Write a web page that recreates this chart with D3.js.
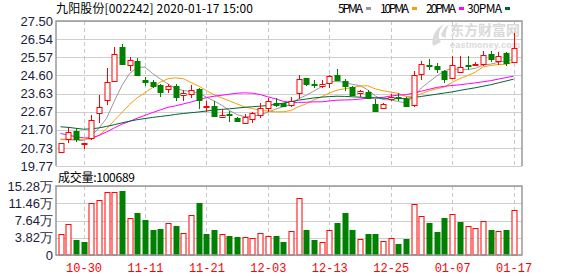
<!DOCTYPE html>
<html>
<head>
<meta charset="utf-8">
<title>九阳股份 K线</title>
<script src="https://d3js.org/d3.v7.min.js"></script>
<style>
    body { margin: 0; background: #fff; }
    svg { display: block; }
    .lbl { font-family: "Liberation Sans", Arial, sans-serif; font-size: 13px; fill: #1c1c3c; }
    .cjk { font-family: "Noto Sans CJK SC", sans-serif; font-size: 12px; fill: #000; }
    .date { font-family: "Liberation Mono", "DejaVu Sans Mono", monospace; font-size: 12px; fill: #f00; }
</style>
</head>
<body>
<script>
// trading days shown
const dates = ["10-25","10-28","10-29","10-30","10-31","11-01","11-04","11-05","11-06","11-07",
    "11-08","11-11","11-12","11-13","11-14","11-15","11-18","11-19","11-20","11-21",
    "11-22","11-25","11-26","11-27","11-28","11-29","12-02","12-03","12-04","12-05",
    "12-06","12-09","12-10","12-11","12-12","12-13","12-16","12-17","12-18","12-19",
    "12-20","12-23","12-24","12-25","12-26","12-27","12-30","12-31","01-02","01-03",
    "01-06","01-07","01-08","01-09","01-10","01-13","01-14","01-15","01-16","01-17"];
const dateTicks = ["10-30","11-11","11-21","12-03","12-13","12-25","01-07","01-17"];

const openP  = [20.49,21.24,21.63,20.93,21.24,22.58,23.28,24.30,26.12,25.16,
    25.35,24.33,24.26,24.10,23.87,24.05,23.55,23.62,23.87,22.90,
    22.97,22.38,22.53,22.35,22.04,22.26,22.49,22.85,23.12,23.12,
    22.99,23.65,24.46,24.16,24.03,24.23,24.64,24.28,23.97,23.67,
    23.74,23.06,22.85,23.37,23.44,23.35,23.03,24.69,25.17,25.08,
    24.82,24.46,24.78,25.14,25.14,25.21,25.75,25.41,25.77,25.32];
const highP  = [21.00,21.86,21.77,21.02,22.49,23.56,24.99,26.12,26.30,25.59,
    25.53,24.51,24.37,24.14,24.14,24.14,23.83,24.10,23.92,23.21,
    23.21,22.79,22.72,22.40,22.54,22.67,23.12,23.38,23.38,23.15,
    23.47,24.64,24.47,24.33,24.37,24.60,24.94,24.40,24.01,23.83,
    23.83,23.33,23.15,23.62,23.65,23.47,24.82,25.35,25.48,25.26,
    24.91,25.62,25.62,25.62,25.30,25.89,25.89,25.84,25.84,26.87];
const lowP   = [20.47,20.97,21.06,20.66,21.15,22.04,23.03,24.28,25.15,24.82,
    24.55,24.01,23.92,23.47,23.65,23.21,23.21,23.42,22.79,22.67,
    22.36,22.31,22.10,22.13,22.02,22.08,22.31,22.63,22.90,22.90,
    22.90,23.33,24.01,23.92,23.92,23.92,24.28,23.78,23.51,23.44,
    23.33,22.70,22.79,23.21,23.21,22.94,22.90,24.33,24.91,24.73,
    24.19,24.44,24.76,24.91,25.08,25.08,25.30,25.17,25.08,25.30];
const closeP = [20.97,21.60,21.18,21.00,22.22,22.90,24.24,25.75,25.19,25.42,
    24.60,24.24,24.06,23.74,24.05,23.45,23.65,23.83,23.30,22.97,
    22.44,22.49,22.46,22.19,22.36,22.58,22.85,23.24,22.99,22.97,
    23.21,24.40,24.14,24.10,24.14,24.58,24.37,24.01,23.56,23.78,
    23.44,22.71,23.06,23.47,23.37,22.97,24.64,25.21,25.10,24.94,
    24.37,25.17,25.03,25.08,25.21,25.71,25.50,25.66,25.26,26.07];

// volume in 万手, up = red (close above previous close)
const volume = [4.58,6.80,3.32,2.95,11.45,12.11,14.02,14.02,14.17,8.13,
    9.30,7.75,5.54,5.69,7.02,6.42,4.80,8.79,11.45,4.65,
    5.54,4.58,4.21,3.99,3.91,3.69,4.80,4.21,4.21,2.88,
    5.24,12.55,5.54,3.32,2.80,5.46,7.09,9.30,5.54,3.47,
    4.65,4.65,3.10,3.69,2.44,3.54,11.22,8.56,7.09,5.09,
    8.19,9.08,7.31,6.35,5.90,7.46,5.54,5.24,5.54,10.07];
const volUp = [1,1,0,0,1,1,1,1,0,1, 0,0,0,0,1,0,1,1,0,0,
    0,1,0,0,1,1,1,1,0,0, 1,1,0,0,1,1,0,0,0,1,
    0,0,1,1,0,0,1,1,0,0, 0,1,0,1,1,1,0,1,0,1];

const ma5  = [21.18,21.17,21.15,21.12,21.39,21.78,22.31,23.22,24.06,24.70,
    25.04,25.04,24.70,24.41,24.14,23.91,23.79,23.74,23.66,23.44,
    23.24,23.01,22.73,22.51,22.39,22.42,22.49,22.64,22.80,22.93,
    23.05,23.36,23.54,23.77,24.00,24.27,24.27,24.24,24.12,24.06,
    23.83,23.50,23.31,23.29,23.21,23.12,23.50,23.93,24.26,24.57,
    24.85,24.96,24.92,24.92,24.97,25.15,25.20,25.30,25.38,25.45];
const ma10 = [21.20,21.20,21.19,21.19,21.22,21.40,21.75,22.20,22.62,23.05,
    23.41,23.67,23.96,24.24,24.42,24.47,24.42,24.22,24.03,23.79,
    23.57,23.40,23.24,23.08,22.91,22.83,22.75,22.69,22.66,22.66,
    22.73,22.93,23.09,23.29,23.46,23.66,23.81,23.89,23.95,24.03,
    24.05,23.88,23.78,23.71,23.64,23.47,23.50,23.62,23.78,23.89,
    23.98,24.23,24.43,24.59,24.77,25.05,25.13,25.18,25.19,25.31];
const ma20 = [21.50,21.42,21.33,21.27,21.26,21.40,21.58,21.80,22.00,22.15,
    22.32,22.47,22.62,22.76,22.90,22.98,23.08,23.18,23.30,23.42,
    23.49,23.54,23.60,23.65,23.67,23.65,23.58,23.46,23.35,23.22,
    23.15,23.16,23.17,23.19,23.19,23.24,23.28,23.29,23.30,23.34,
    23.39,23.40,23.43,23.50,23.55,23.57,23.66,23.76,23.86,23.96,
    24.02,24.06,24.10,24.15,24.20,24.26,24.32,24.40,24.48,24.56];
const ma30 = [21.86,21.83,21.78,21.73,21.75,21.80,21.88,21.97,22.07,22.16,
    22.24,22.30,22.36,22.41,22.46,22.52,22.57,22.61,22.65,22.70,
    22.75,22.79,22.82,22.86,22.90,22.93,22.96,23.00,23.06,23.12,
    23.20,23.28,23.34,23.40,23.44,23.47,23.49,23.48,23.46,23.44,
    23.42,23.40,23.38,23.37,23.36,23.37,23.42,23.48,23.54,23.60,
    23.66,23.72,23.80,23.87,23.94,24.02,24.10,24.20,24.30,24.40];

const priceTicks = [19.77,20.73,21.70,22.67,23.63,24.60,25.57,26.54,27.50];
const volTicks = [0,3.82,7.64,11.46,15.28];

const maNames = ["5PMA","10PMA","20PMA","30PMA"];
const maColors = ["#999999","#f5a000","#ff00ff","#006633"];
const maSeries = [ma5, ma10, ma20, ma30];

const W = 578, H = 276;
const left = 56, right = 522;
const pTop = 21, pBot = 166, vTop = 186, vBot = 255;
const red = "#ff0000", green = "#008000";

let svg = d3.select("body").append("svg")
    .attr("width", W).attr("height", H);

let x = d3.scalePoint().domain(dates).range([60.5, 513.6]);
let cx = d => Math.round(x(d)) + 0.5;
let yP = d3.scaleLinear().domain([19.77, 27.50]).range([pBot, pTop]);
let yV = d3.scaleLinear().domain([0, 15.28]).range([vBot, vTop]);

// grids
function grid(g, yScale, ticks, y0, y1) {
    g.selectAll("line.h").data(ticks).join("line")
        .attr("x1", left).attr("x2", right)
        .attr("y1", d => Math.round(yScale(d)) + 0.5)
        .attr("y2", d => Math.round(yScale(d)) + 0.5)
        .attr("stroke", "#cfcfcf");
    g.selectAll("line.v").data(dateTicks).join("line")
        .attr("x1", d => cx(d)).attr("x2", d => cx(d))
        .attr("y1", y0).attr("y2", y1)
        .attr("stroke", "#c8c8c8").attr("stroke-dasharray", "4,3");
}
grid(svg.append("g"), yP, priceTicks, pTop, pBot);
grid(svg.append("g"), yV, volTicks, vTop, vBot);

// watermark
let wm = svg.append("g").attr("fill", "#dadada");
wm.append("path")
    .attr("d", "M433,46 C431,38 434,30 444,24 C439,30 437,36 441,42 Z M441,36 C442,30 446,26 449,25 C446,30 445,34 446,38 Z");
wm.append("text").attr("x", 450).attr("y", 35)
    .style("font-family", "Noto Sans CJK SC").style("font-size", "14px").style("font-weight", "bold")
    .attr("textLength", 70).text("东方财富网");
wm.append("text").attr("x", 450).attr("y", 48)
    .style("font-family", "Liberation Sans").style("font-size", "9px").style("font-weight", "bold")
    .attr("textLength", 70).text("eastmoney.com");

// MA lines
maSeries.forEach((s, k) => {
    let line = d3.line().x((d, i) => x(dates[i])).y(d => yP(d));
    svg.append("path").datum(s)
        .attr("d", line).attr("fill", "none")
        .attr("stroke", maColors[k]).attr("stroke-width", 1);
});

// candles
let cd = dates.map((d, i) => ({d, o: openP[i], h: highP[i], l: lowP[i], c: closeP[i]}));
let cg = svg.append("g").selectAll("g").data(cd).join("g");
cg.append("line")
    .attr("x1", d => cx(d.d)).attr("x2", d => cx(d.d))
    .attr("y1", d => Math.round(yP(d.h))).attr("y2", d => Math.round(yP(d.l)))
    .attr("stroke", d => d.c >= d.o ? red : green);
cg.append("rect")
    .attr("x", d => cx(d.d) - 2.5)
    .attr("y", d => Math.round(yP(Math.max(d.o, d.c))) + 0.5)
    .attr("width", 5)
    .attr("height", d => Math.max(1, Math.round(yP(Math.min(d.o, d.c)) - yP(Math.max(d.o, d.c)))))
    .attr("fill", d => d.c >= d.o ? "#fff" : green)
    .attr("stroke", d => d.c >= d.o ? red : green);

// volume bars
let vd = dates.map((d, i) => ({d, v: volume[i], up: volUp[i]}));
svg.append("g").selectAll("rect").data(vd).join("rect")
    .attr("x", d => cx(d.d) - 2.5)
    .attr("y", d => Math.round(yV(d.v)) + 0.5)
    .attr("width", 5)
    .attr("height", d => vBot - Math.round(yV(d.v)) - 0.5)
    .attr("fill", d => d.up ? "#fff" : green)
    .attr("stroke", d => d.up ? red : green);

// frames
let frame = svg.append("g").attr("fill", "none").attr("stroke", "#999").attr("stroke-width", 1.5);
frame.append("path").attr("d", `M${left},${pBot} V${pTop} H${right} V${pBot}`);
frame.append("path").attr("d", `M${left},${vTop} V${vBot} H${right} V${vTop} Z`);

// axes
let pAxis = d3.axisLeft(yP).tickValues(priceTicks).tickSize(0).tickPadding(3)
    .tickFormat(d3.format(".2f"));
svg.append("g").attr("transform", `translate(${left},0)`).call(pAxis)
    .call(g => g.select(".domain").remove())
    .selectAll("text").attr("class", "lbl").attr("fill", null);

let vAxis = d3.axisLeft(yV).tickValues(volTicks).tickSize(0).tickPadding(3)
    .tickFormat(d => d === 0 ? "0" : d3.format(".2f")(d) + "万");
svg.append("g").attr("transform", `translate(${left},0)`).call(vAxis)
    .call(g => g.select(".domain").remove())
    .selectAll("text").attr("class", "lbl").attr("fill", null);

let xAxis = d3.axisBottom(x).tickValues(dateTicks).tickSize(0).tickPadding(8);
svg.append("g").attr("transform", `translate(0,${vBot})`).call(xAxis)
    .call(g => g.select(".domain").remove())
    .selectAll("text").attr("class", "date").attr("fill", null);

// title and legend
svg.append("text").attr("class", "cjk").attr("x", left).attr("y", 13)
    .attr("textLength", 197).text("九阳股份[002242] 2020-01-17 15:00");

const legendX = [338, 380, 426, 467];
const legendW = [25, 29, 30, 35];
maNames.forEach((n, k) => {
    svg.append("text").attr("class", "cjk").attr("x", legendX[k]).attr("y", 13)
        .attr("textLength", legendW[k]).text(n);
    svg.append("rect").attr("x", legendX[k] + legendW[k] + 3).attr("y", 7)
        .attr("width", 5).attr("height", 3).attr("fill", maColors[k]);
});

svg.append("text").attr("class", "cjk").attr("x", 58).attr("y", 182)
    .attr("textLength", 77).text("成交量:100689");
</script>
</body>
</html>
